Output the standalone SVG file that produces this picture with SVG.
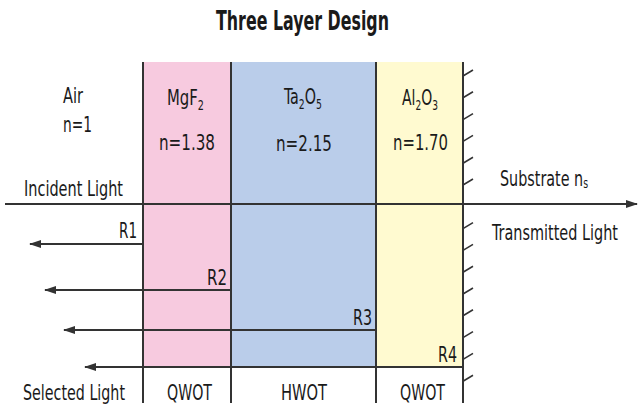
<svg xmlns="http://www.w3.org/2000/svg" width="640" height="410" viewBox="0 0 640 410">
<style>
text{font-family:"Liberation Sans Narrow","DejaVu Sans Condensed","Liberation Sans",sans-serif;font-size:21.5px;fill:#1a1a1a}
.title{font-weight:bold;font-size:27px}
.sub{font-size:14px}
.ln{stroke:#333;stroke-width:2;fill:none}
.tick{stroke:#333;stroke-width:1.6;fill:none}
</style>
<defs>
<marker id="ah" viewBox="0 0 12 8" refX="11" refY="4" markerWidth="12" markerHeight="8" markerUnits="userSpaceOnUse" orient="auto">
<path d="M0,0 L12,4 L0,8 Z" fill="#333"/>
</marker>
</defs>
<rect width="640" height="410" fill="#fff"/>
<text class="title" x="216" y="30" textLength="173" lengthAdjust="spacingAndGlyphs">Three Layer Design</text>

<g id="layer-mgf2">
<rect x="143" y="62" width="88" height="305" fill="#F7CADF"/>
<text x="167" y="105" textLength="37" lengthAdjust="spacingAndGlyphs">MgF<tspan class="sub" dy="5">2</tspan></text>
<text x="159" y="150" textLength="56" lengthAdjust="spacingAndGlyphs">n=1.38</text>
<text x="167" y="400" textLength="45" lengthAdjust="spacingAndGlyphs">QWOT</text>
</g>
<g id="layer-ta2o5">
<rect x="231" y="62" width="145" height="305" fill="#BACDEA"/>
<text x="284" y="104" textLength="38" lengthAdjust="spacingAndGlyphs">Ta<tspan class="sub" dy="5">2</tspan><tspan dy="-5">O</tspan><tspan class="sub" dy="5">5</tspan></text>
<text x="276" y="151" textLength="56" lengthAdjust="spacingAndGlyphs">n=2.15</text>
<text x="281" y="400" textLength="46" lengthAdjust="spacingAndGlyphs">HWOT</text>
</g>
<g id="layer-al2o3">
<rect x="376" y="62" width="87" height="305" fill="#FFFAD0"/>
<text x="402" y="105" textLength="36" lengthAdjust="spacingAndGlyphs">Al<tspan class="sub" dy="5">2</tspan><tspan dy="-5">O</tspan><tspan class="sub" dy="5">3</tspan></text>
<text x="393" y="150" textLength="55" lengthAdjust="spacingAndGlyphs">n=1.70</text>
<text x="400" y="400" textLength="45" lengthAdjust="spacingAndGlyphs">QWOT</text>
</g>
<g id="air">
<text x="63" y="103" textLength="20" lengthAdjust="spacingAndGlyphs">Air</text>
<text x="63" y="132" textLength="29" lengthAdjust="spacingAndGlyphs">n=1</text>
<text x="24" y="196" textLength="99" lengthAdjust="spacingAndGlyphs">Incident Light</text>
<text x="23" y="400" textLength="102" lengthAdjust="spacingAndGlyphs">Selected Light</text>
</g>
<g id="substrate">
<text x="500" y="186" textLength="88" lengthAdjust="spacingAndGlyphs">Substrate n<tspan class="sub" dy="2">s</tspan></text>
<text x="492" y="240" textLength="126" lengthAdjust="spacingAndGlyphs">Transmitted Light</text>
<g class="tick">
<path d="M463,76 L473,70 M463,97.8 L473,91.8 M463,119.6 L473,113.6 M463,141.4 L473,135.4 M463,163.2 L473,157.2 M463,185 L473,179 M463,228.6 L473,222.6 M463,250.4 L473,244.4 M463,272.2 L473,266.2 M463,294 L473,288 M463,315.8 L473,309.8 M463,337.6 L473,331.6 M463,359.4 L473,353.4 M463,381.2 L473,375.2"/>
</g>
</g>

<g id="connectors">
<path class="ln" d="M143,62 V403 M231,62 V403 M376,62 V403 M463,62 V403"/>
<path class="ln" d="M5,204 H637" stroke-width="2.4" marker-end="url(#ah)"/>
<path class="ln" d="M143,244 H30" marker-end="url(#ah)"/>
<path class="ln" d="M231,290 H45" marker-end="url(#ah)"/>
<path class="ln" d="M376,330 H64" marker-end="url(#ah)"/>
<path class="ln" d="M463,367 H85" marker-end="url(#ah)"/>
<text x="119" y="238" textLength="18" lengthAdjust="spacingAndGlyphs">R1</text>
<text x="207" y="285" textLength="20" lengthAdjust="spacingAndGlyphs">R2</text>
<text x="353" y="325" textLength="19" lengthAdjust="spacingAndGlyphs">R3</text>
<text x="438" y="362" textLength="19" lengthAdjust="spacingAndGlyphs">R4</text>
</g>
</svg>
